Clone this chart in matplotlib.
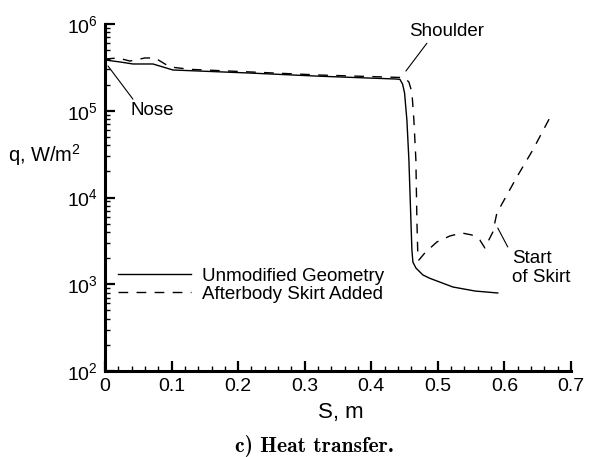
import matplotlib
matplotlib.use("Agg")
import matplotlib.pyplot as plt
from matplotlib.ticker import MultipleLocator, LogLocator, LogFormatterSciNotation, NullFormatter

plt.rcParams['font.family'] = ['Liberation Sans', 'DejaVu Sans']
plt.rcParams['mathtext.fontset'] = 'custom'
plt.rcParams['mathtext.rm'] = 'Liberation Sans'
plt.rcParams['mathtext.it'] = 'Liberation Sans'

# Data: Unmodified geometry (solid)
s_unmod = [0.0, 0.0225, 0.042, 0.072, 0.102, 0.218, 0.323, 0.438, 0.443, 0.447,
           0.450, 0.4535, 0.4565, 0.4595, 0.461, 0.4625, 0.467, 0.4775, 0.488,
           0.5225, 0.556, 0.590]
q_unmod = [3.85e5, 3.65e5, 3.46e5, 3.46e5, 2.95e5, 2.72e5, 2.5e5, 2.32e5, 2.3e5, 2.03e5,
           1.6e5, 7.8e4, 2.7e4, 5.5e3, 2.5e3, 1.8e3, 1.54e3, 1.28e3, 1.17e3,
           930, 835, 793]

# Data: Afterbody skirt added (dashed)
s_skirt = [0.0, 0.0195, 0.0375, 0.06, 0.075, 0.0975, 0.128, 0.218, 0.323, 0.443,
           0.450, 0.4565, 0.461, 0.464, 0.467, 0.4685, 0.470, 0.4715, 0.4805,
           0.4985, 0.518, 0.536, 0.551, 0.563, 0.5706, 0.5826, 0.5886, 0.6186,
           0.6426, 0.668]
q_skirt = [3.95e5, 4.06e5, 3.74e5, 4.06e5, 4.06e5, 3.2e5, 3.0e5, 2.8e5, 2.58e5, 2.42e5,
           2.4e5, 2.14e5, 1.64e5, 7.8e4, 2.7e4, 5.5e3, 2.06e3, 1.9e3, 2.3e3,
           3.07e3, 3.6e3, 3.9e3, 3.7e3, 3.24e3, 2.62e3, 4.0e3, 6.6e3, 1.72e4,
           3.53e4, 8.25e4]

labels = ["Unmodified Geometry", "Afterbody Skirt Added"]
xtick_vals = [0, 0.1, 0.2, 0.3, 0.4, 0.5, 0.6, 0.7]
xtick_labels = ["0", "0.1", "0.2", "0.3", "0.4", "0.5", "0.6", "0.7"]

fig = plt.figure(figsize=(5.89, 4.57), dpi=100)
ax = fig.add_axes([105/589, 1 - 371/457, 466/589, 347/457])

l1, = ax.plot(s_unmod, q_unmod, color='black', lw=1.0, label=labels[0])
l2, = ax.plot(s_skirt, q_skirt, color='black', lw=1.0, dashes=(7, 6), label=labels[1])

ax.set_yscale('log')
ax.set_xlim(0, 0.7)
ax.set_ylim(1e2, 1e6)

ax.set_xticks(xtick_vals)
ax.set_xticklabels(xtick_labels)
ax.xaxis.set_minor_locator(MultipleLocator(0.02))
ax.yaxis.set_major_locator(LogLocator(base=10, numticks=10))
ax.yaxis.set_minor_locator(LogLocator(base=10, subs=range(2, 10), numticks=20))
ax.yaxis.set_major_formatter(LogFormatterSciNotation())
ax.yaxis.set_minor_formatter(NullFormatter())

for sp in ['top', 'right']:
    ax.spines[sp].set_visible(False)
for sp in ['left', 'bottom']:
    ax.spines[sp].set_linewidth(2.2)

ax.tick_params(which='major', direction='in', length=7, width=1.6, labelsize=14, pad=5)
ax.tick_params(which='minor', direction='in', length=3.6, width=1.0)

ax.set_xlabel("S, m", fontsize=16, va='top')
ax.xaxis.set_label_coords(0.507, -0.088)
ax.set_ylabel("q, W/m$^2$", fontsize=14.5, rotation=0, ha='center', va='center')
ax.yaxis.set_label_coords(-0.129, 0.622)

leg = ax.legend(handles=[l1, l2], loc='center left', bbox_to_anchor=(0.028, 0.247),
                frameon=False, fontsize=13.5, handlelength=3.9, handletextpad=0.6,
                labelspacing=0.05, borderpad=0, borderaxespad=0)

akw = dict(arrowprops=dict(arrowstyle='-', color='black', lw=0.8, shrinkA=0, shrinkB=0))
ax.annotate("", xy=(0.0045, 3.28e5), xytext=(0.042, 1.36e5), **akw)
ax.text(0.038, 1.0e5, "Nose", fontsize=13.5, ha='left', va='center')
ax.annotate("", xy=(0.452, 2.87e5), xytext=(0.4835, 6.0e5), **akw)
ax.text(0.5135, 8.3e5, "Shoulder", fontsize=13.5, ha='center', va='center')
ax.annotate("", xy=(0.590, 4.45e3), xytext=(0.605, 2.69e3), **akw)
ax.text(0.611, 1.55e3, "Start\nof Skirt", fontsize=13.5, ha='left', va='center',
        linespacing=1.12)

fig.text(314/589, 1 - 446/457, "c) Heat transfer.", fontsize=15.5, family='cmb10',
         ha='center', va='center')

fig.savefig("out.png", dpi=100)
